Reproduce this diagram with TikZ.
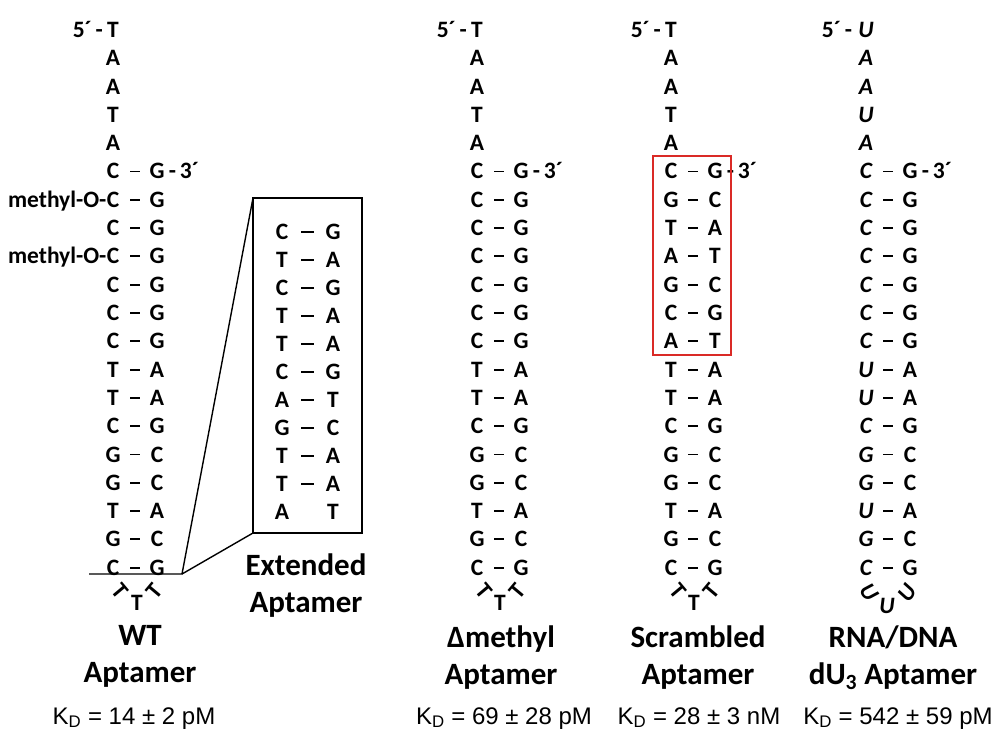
\documentclass[tikz,border=0pt]{standalone}
\usepackage{fontspec}
\setmainfont{Carlito}
\newfontfamily\arialfont{Liberation Sans}
\usetikzlibrary{positioning}
\definecolor{boxred}{RGB}{218,42,38}

\tikzset{
  nt/.style={font=\bfseries\fontsize{23.5}{28}\selectfont,inner sep=0pt,text height=15pt,text depth=0pt},
  rnant/.style={nt,font=\bfseries\itshape\fontsize{23.5}{28}\selectfont},
  bond/.style={line width=1.9pt,shorten <=17pt,shorten >=17pt},
  extbond/.style={line width=1.9pt,shorten <=19pt,shorten >=19pt},
  frame/.style={line width=1.4pt},
  title/.style={font=\bfseries\fontsize{31}{37}\selectfont,anchor=base,inner sep=0pt},
  kd/.style={font=\arialfont\fontsize{24}{28}\selectfont,anchor=base,inner sep=0pt}
}

\begin{document}
\begin{tikzpicture}[x=1pt,y=-1pt]
  \useasboundingbox (0,0) rectangle (997,730);

  % WT aptamer
  \node[nt] (wt0) at (113,30) {T};
  \node[nt,anchor=base east] (wt5p) at (wt0.base west) {5´\,-\,};
  \foreach \b [count=\i] in {A,A,T,A}
    \node[nt] (wt\i) at (113,{30+28.3*\i}) {\b};
  \foreach \l/\r [count=\i from 5] in {C/G,C/G,C/G,C/G,C/G,C/G,C/G,T/A,T/A,C/G,G/C,G/C,T/A,G/C,C/G}{
    \node[nt] (wtl\i) at (113,{30+28.3*\i}) {\l};
    \node[nt] (wtr\i) at (157,{30+28.3*\i}) {\r};
    \draw[bond] (wtl\i.center) -- (wtr\i.center);
  }
  \node[nt,anchor=base west] (wt3p) at (wtr5.base east) {\,-\,3´};
  \node[nt,anchor=base east] (wtm6) at (wtl6.base west) {methyl-O-};
  \node[nt,anchor=base east] (wtm8) at (wtl8.base west) {methyl-O-};
  \node[nt,rotate=-50] (wtt1) at (120,591) {T};
  \node[nt] (wtt2) at (137,603) {T};
  \node[nt,rotate=50] (wtt3) at (154,591) {T};

  % cut and extended stem
  \coordinate (cutw) at (89,574);
  \coordinate (cut) at (182,574);
  \coordinate (extnw) at (253,198);
  \coordinate (extsw) at (253,533);
  \draw[frame] (extnw) rectangle (362,533);
  \draw[frame] (cutw) -- (cut) -- (extnw);
  \draw[frame] (cut) -- (extsw);
  \foreach \l/\r [count=\i from 0] in {C/G,T/A,C/G,T/A,T/A,C/G,A/T,G/C,T/A,T/A}{
    \node[nt] (exl\i) at (282,{232+28*\i}) {\l};
    \node[nt] (exr\i) at (333,{232+28*\i}) {\r};
    \draw[extbond] (exl\i.center) -- (exr\i.center);
  }
  \node[nt] (exl10) at (282,512) {A};
  \node[nt] (exr10) at (333,512) {T};

  % delta methyl aptamer
  \node[nt] (dm0) at (477,30) {T};
  \node[nt,anchor=base east] (dm5p) at (dm0.base west) {5´\,-\,};
  \foreach \b [count=\i] in {A,A,T,A}
    \node[nt] (dm\i) at (477,{30+28.3*\i}) {\b};
  \foreach \l/\r [count=\i from 5] in {C/G,C/G,C/G,C/G,C/G,C/G,C/G,T/A,T/A,C/G,G/C,G/C,T/A,G/C,C/G}{
    \node[nt] (dml\i) at (477,{30+28.3*\i}) {\l};
    \node[nt] (dmr\i) at (521,{30+28.3*\i}) {\r};
    \draw[bond] (dml\i.center) -- (dmr\i.center);
  }
  \node[nt,anchor=base west] (dm3p) at (dmr5.base east) {\,-\,3´};
  \node[nt,rotate=-50] (dmt1) at (484,591) {T};
  \node[nt] (dmt2) at (500,603) {T};
  \node[nt,rotate=50] (dmt3) at (517,591) {T};

  % scrambled aptamer
  \node[nt] (sc0) at (671,30) {T};
  \node[nt,anchor=base east] (sc5p) at (sc0.base west) {5´\,-\,};
  \foreach \b [count=\i] in {A,A,T,A}
    \node[nt] (sc\i) at (671,{30+28.3*\i}) {\b};
  \foreach \l/\r [count=\i from 5] in {C/G,G/C,T/A,A/T,G/C,C/G,A/T,T/A,T/A,C/G,G/C,G/C,T/A,G/C,C/G}{
    \node[nt] (scl\i) at (671,{30+28.3*\i}) {\l};
    \node[nt] (scr\i) at (715,{30+28.3*\i}) {\r};
    \draw[bond] (scl\i.center) -- (scr\i.center);
  }
  \node[nt,anchor=base west] (sc3p) at (scr5.base east) {\,-\,3´};
  \draw[boxred,frame] (653,156) rectangle (731,355);
  \node[nt,rotate=-50] (sct1) at (678,591) {T};
  \node[nt] (sct2) at (694,603) {T};
  \node[nt,rotate=50] (sct3) at (711,591) {T};

  % RNA/DNA aptamer
  \node[rnant] (rn0) at (866,30) {U};
  \node[nt,anchor=base east] (rn5p) at ([xshift=-2pt]rn0.base west) {5´\,-\,};
  \foreach \b [count=\i] in {A,A,U,A}
    \node[rnant] (rn\i) at (866,{30+28.3*\i}) {\b};
  \foreach \l/\r [count=\i from 5] in {C/G,C/G,C/G,C/G,C/G,C/G,C/G,U/A,U/A,C/G,G/C,G/C,U/A,G/C,C/G}{
    \node[rnant] (rnl\i) at (866,{30+28.3*\i}) {\l};
    \node[nt] (rnr\i) at (910,{30+28.3*\i}) {\r};
    \draw[bond] (rnl\i.center) -- (rnr\i.center);
  }
  \node[nt,anchor=base west] (rn3p) at (rnr5.base east) {\,-\,3´};
  \node[rnant,rotate=-55] (rnu1) at (869,592) {U};
  \node[rnant] (rnu2) at (887,606) {U};
  \node[rnant,rotate=55] (rnu3) at (907,593) {U};

  % names and binding constants
  \node[title] (wtname) at (140,645) {WT};
  \node[title] (wtapt) at (140,682) {Aptamer};
  \node[title] (exname) at (306,575) {Extended};
  \node[title] (exapt) at (306,612) {Aptamer};
  \node[title] (dmname) at (501,647) {Δmethyl};
  \node[title] (dmapt) at (501,684) {Aptamer};
  \node[title] (scname) at (698,647) {Scrambled};
  \node[title] (scapt) at (698,684) {Aptamer};
  \node[title] (rnname) at (893,647) {RNA/DNA};
  \node[title] (rnapt) at (893,684) {dU\textsubscript{3} Aptamer};
  \node[kd] (kdwt) at (134,724) {K\textsubscript{D} = 14 ± 2 pM};
  \node[kd] (kddm) at (504,724) {K\textsubscript{D} = 69 ± 28 pM};
  \node[kd] (kdsc) at (699,724) {K\textsubscript{D} = 28 ± 3 nM};
  \node[kd] (kdrn) at (898,724) {K\textsubscript{D} = 542 ± 59 pM};
\end{tikzpicture}
\end{document}
